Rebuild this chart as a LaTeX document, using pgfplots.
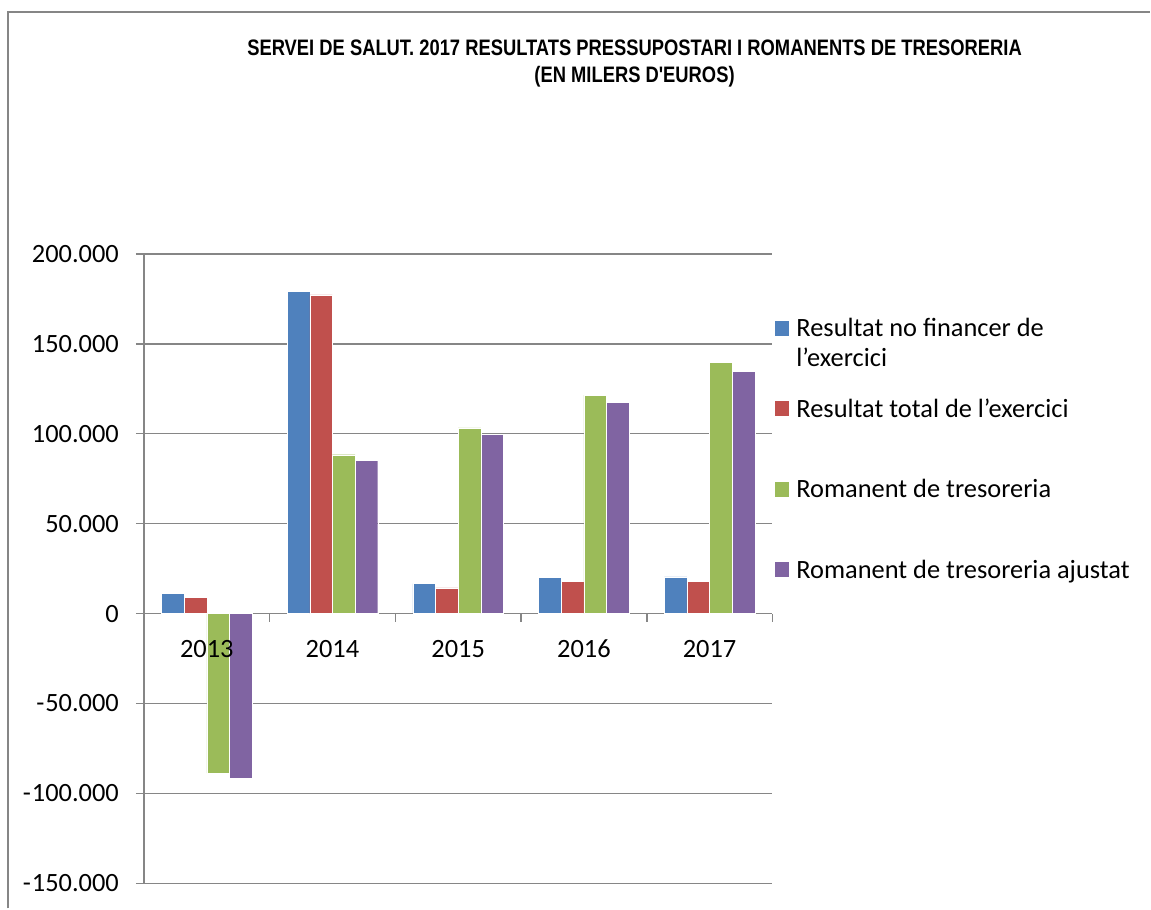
\documentclass[border=0pt]{standalone}
\usepackage{fontspec}
\setmainfont{Carlito}
\newfontfamily\titlefont[FakeStretch=0.82]{Liberation Sans Bold}
\usepackage{pgfplots}
\pgfplotsset{compat=1.18}
\definecolor{cblue}{HTML}{4F81BD}
\definecolor{cred}{HTML}{C0504D}
\definecolor{cgreen}{HTML}{9BBB59}
\definecolor{cpurple}{HTML}{8064A2}
\definecolor{gridgray}{HTML}{868686}
\pgfplotsset{
 layers/mylayers/.define layer set={axis background,axis grid,axis ticks,axis lines,main,axis tick labels,axis descriptions,axis foreground}{/pgfplots/layers/standard},
}
\newcommand{\neglab}[1]{\mbox{-}\kern0.5pt\mbox{#1}}
\begin{document}
\begin{tikzpicture}
\path (0,0) rectangle (575.5pt,454.5pt);
\draw[gridgray, line width=0.8pt] (4pt,0pt) -- (4pt,448.5pt) -- (575.5pt,448.5pt);
\node[anchor=base, inner sep=0pt] at (317.5pt,426.5pt) {\titlefont\fontsize{11.2}{13}\selectfont SERVEI DE SALUT. 2017 RESULTATS PRESSUPOSTARI I ROMANENTS DE TRESORERIA};
\node[anchor=base, inner sep=0pt] at (317.5pt,413pt) {\titlefont\fontsize{11.2}{13}\selectfont (EN MILERS D'EUROS)};
\begin{axis}[
 set layers=mylayers,
 at={(72pt,12.5pt)}, anchor=south west,
 scale only axis, width=314.5pt, height=315pt,
 ybar=0pt, bar width=0.18,
 xmin=-0.5, xmax=4.5, ymin=-150000, ymax=200000,
 enlargelimits=false,
 axis x line*=middle, axis y line*=left,
 axis line style={gridgray, line width=0.8pt},
 ymajorgrids, major grid style={gridgray, line width=0.8pt},
 xtick={0,1,2,3,4}, xticklabels={2013,2014,2015,2016,2017},
 minor xtick={-0.5,0.5,1.5,2.5,3.5,4.5},
 major x tick style={draw=none},
 minor tick length=4pt,
 minor x tick style={gridgray, line width=0.8pt},
 ytick={-150000,-100000,-50000,0,50000,100000,150000,200000},
 yticklabels={\neglab{150.000},\neglab{100.000},\neglab{50.000},\mbox{0},\mbox{50.000},\mbox{100.000},\mbox{150.000},\mbox{200.000}},
 scaled y ticks=false,
 y tick style={gridgray, line width=0.8pt},
 major tick length=4pt, tick align=outside,
 tick label style={font=\fontsize{13.2}{15}\selectfont},
 yticklabel style={xshift=-5pt},
 xticklabel style={text height=8.5pt, text depth=0pt, yshift=-6pt},
 legend style={at={(1,1)}, anchor=north west, xshift=1.5pt, yshift=-32.5pt,
   draw=none, fill=none, inner sep=0pt, outer sep=0pt,
   font=\fontsize{13.2}{15}\selectfont,
   nodes={inner sep=0pt, text height=9pt, text depth=3pt, anchor=base west},
   column sep=3.5pt, row sep=28.3pt},
 legend cell align=left,
 legend image code/.code={\fill[#1,draw=none] (0pt,0.5pt) rectangle (7pt,8pt);},
]
\addplot[fill=cblue, draw=white, line width=0.2pt] coordinates {(0,11300) (1,179000) (2,16700) (3,20000) (4,20400)};
\addplot[fill=cred, draw=white, line width=0.2pt] coordinates {(0,9100) (1,177200) (2,14300) (3,17800) (4,18000)};
\addplot[fill=cgreen, draw=white, line width=0.2pt] coordinates {(0,-88700) (1,88300) (2,103200) (3,121500) (4,139800)};
\addplot[fill=cpurple, draw=white, line width=0.2pt] coordinates {(0,-91800) (1,85000) (2,99800) (3,117600) (4,134600)};
\addlegendentry{\begin{tabular}[t]{@{}l@{}}Resultat no financer de\\l’exercici\end{tabular}}
\addlegendentry{Resultat total de l’exercici}
\addlegendentry{Romanent de tresoreria}
\addlegendentry{Romanent de tresoreria ajustat}
\end{axis}
\end{tikzpicture}
\end{document}
